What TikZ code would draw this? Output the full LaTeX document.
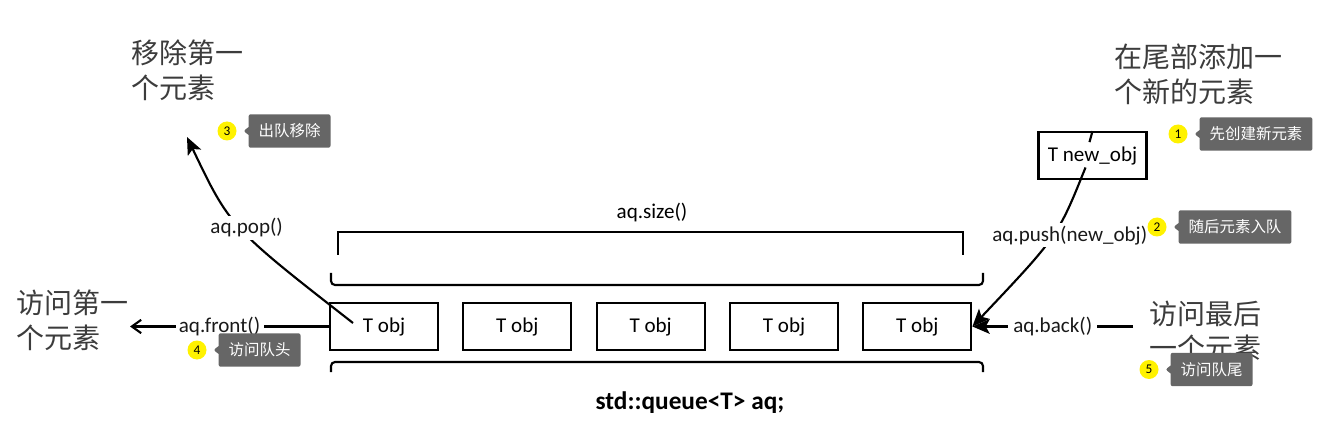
\documentclass[tikz,border=0pt]{standalone}
\usepackage{fontspec}
\setmainfont{Carlito}
\newfontfamily\cjk{Noto Sans CJK SC}
\usepackage{tikz}
\usetikzlibrary{arrows.meta,positioning,calc,shapes.callouts}
\definecolor{inkgray}{HTML}{3C3C3C}
\definecolor{notegray}{HTML}{666666}

\begin{document}
\begin{tikzpicture}[
            x=0.75pt, y=-0.75pt,
            line width=1.6pt,
            obj/.style={draw,on grid,minimum width=81pt,minimum height=35pt,inner sep=0pt,font=\fontsize{15.8}{18}\selectfont},
            lbl/.style={fill=white,inner xsep=2.5pt,inner ysep=2pt,text=black!90,font=\fontsize{15.8}{18}\selectfont},
            zh/.style={align=left,anchor=west,inner sep=0pt,text=inkgray,font=\cjk\fontsize{21}{26}\selectfont},
            badge/.style={circle,fill=yellow,minimum size=14.25pt,inner sep=0pt,font=\fontsize{10}{11}\selectfont},
            notebox/.style={rectangle callout,fill=notegray,rounded corners=1.5pt,text=white,minimum height=25pt,inner xsep=7.5pt,callout pointer width=6pt,font=\cjk\fontsize{11.6}{14}\selectfont},
            >={Stealth[length=13pt,width=11pt,inset=3pt]}
        ]
        \useasboundingbox (0,0) rectangle (1336,431);

        % Draw queue %
        \node[obj] (obj1) at (384,326.5) {T obj};
        \node[obj, right=100pt of obj1] (obj2) {T obj};
        \node[obj, right=100pt of obj2] (obj3) {T obj};
        \node[obj, right=100pt of obj3] (obj4) {T obj};
        \node[obj, right=100pt of obj4] (obj5) {T obj};
        \node[obj] (newobj) at (1092.5,155.5) {T new\_obj};

        % Draw brackets %
        \draw (338,255) -- (338,232) -- (963,232) -- (963,255);
        \draw[rounded corners=3pt] (331,273) -- (331,285) -- (983,285) -- (983,273);
        \draw[rounded corners=3pt] (331,372) -- (331,362) -- (983,362) -- (983,372);
        \node[font=\fontsize{15.8}{18}\selectfont] (size) at (652,212) {aq.size()};
        \node[font=\bfseries\fontsize{19}{22}\selectfont] (qname) at (690,403) {std::queue<T> aq;};

        % Draw texts %
        \node[zh] (poptxt) at (130,70) {移除第一\\个元素};
        \node[zh] (pushtxt) at (1113,74) {在尾部添加一\\个新的元素};
        \node[zh] (fronttxt) at (15,320) {访问第一\\个元素};
        \node[zh] (backtxt) at (1148,331) {访问最后\\一个元素};

        % Draw arrows %
        \coordinate (poptip) at (187,137);
        \coordinate (fronttip) at (130,326.5);
        \coordinate (backend) at (1133,326.5);
        \draw[->] ($(obj1)+(-31,-3.5)$) .. controls (230,227) .. (poptip)
            node[lbl, pos=0.5, xshift=5pt] {aq.pop()};
        \draw[-{Straight Barb[length=7pt,width=10pt]}] (obj1.west) -- (fronttip)
            node[lbl, pos=0.55] {aq.front()};
        \draw (newobj.north) -- ++(-3,11);
        \draw[->] ($(newobj)+(-7,12)$) .. controls (1058,236) .. (obj5.east)
            node[lbl, pos=0.47, xshift=12.4pt] {aq.push(new\_obj)};
        \draw[->] (backend) -- (obj5.east)
            node[lbl, pos=0.5, inner xsep=4pt] {aq.back()};

        % Draw notes %
        \node[badge] (b1) at (1178,134) {1};
        \node[notebox, right=7.5pt of b1, callout absolute pointer={([xshift=4.5pt]b1.east)}] (n1) {先创建新元素};
        \node[badge] (b2) at (1157,227) {2};
        \node[notebox, right=7.5pt of b2, callout absolute pointer={([xshift=4.5pt]b2.east)}] (n2) {随后元素入队};
        \node[badge] (b3) at (227,131) {3};
        \node[notebox, right=7.5pt of b3, callout absolute pointer={([xshift=4.5pt]b3.east)}] (n3) {出队移除};
        \node[badge] (b4) at (197,350) {4};
        \node[notebox, right=7.5pt of b4, callout absolute pointer={([xshift=4.5pt]b4.east)}] (n4) {访问队头};
        \node[badge] (b5) at (1149,369.5) {5};
        \node[notebox, right=7.5pt of b5, callout absolute pointer={([xshift=4.5pt]b5.east)}] (n5) {访问队尾};
        \end{tikzpicture}
\end{document}
